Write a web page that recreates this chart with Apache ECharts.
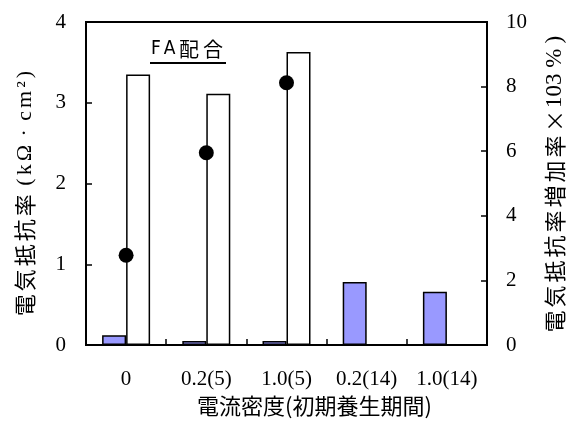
<!DOCTYPE html>
<html>
<head>
<meta charset="utf-8">
<script src="https://cdn.jsdelivr.net/npm/echarts@6/dist/echarts.min.js"></script>
<style>
  html, body { margin: 0; padding: 0; background: #fff; }
  #chart { width: 568px; height: 423px; }
</style>
</head>
<body>
<div id="chart"></div>
<script>
// Current density (initial curing period)
const categories = ['0', '0.2(5)', '1.0(5)', '0.2(14)', '1.0(14)'];
// Electrical resistivity (kΩ·cm²), two measurement series
const resistivityA = [0.12, 0.05, 0.05, 0.78, 0.66];
const resistivityB = [3.35, 3.11, 3.63, null, null];
// Resistivity increase rate (×10³ %)
const increaseRate = [2.78, 5.95, 8.12, null, null];
// Tick settings
const leftTicks = { min: 0, max: 4, interval: 1 };
const rightTicks = { min: 0, max: 10, interval: 2 };

const serif = '"Liberation Serif", "Times New Roman", serif';
const gothic = '"Noto Sans CJK JP", "Noto Sans", sans-serif';

// Wrap every character in its own rich-text token so the padding spreads the letters out
function spaced(text, style) {
  return Array.from(text).map(ch => '{' + style + '|' + ch + '}').join('');
}

const leftName = spaced('電気抵抗率', 'c') + '{g| }' +
  spaced('(kΩ', 's') + '{s| · }' + spaced('cm²)', 's');
const rightName = spaced('電気抵抗率増加率', 'c') + '{x|×}' + '{n|103 %}' + '{p|)}';
const panelTitle = spaced('FA', 'a') + spaced('配合', 'b');

const chart = echarts.init(document.getElementById('chart'), null, { renderer: 'canvas' });

chart.setOption({
  animation: false,
  backgroundColor: '#fff',
  grid: {
    left: 86, right: 81, top: 22, bottom: 78,
    containLabel: false,
    outerBoundsMode: 'none',
    show: true, borderColor: '#000', borderWidth: 2, backgroundColor: 'transparent'
  },
  graphic: [
    {
      type: 'text', left: 151, top: 39,
      style: {
        text: panelTitle,
        fill: '#000',
        rich: {
          a: { fontFamily: '"DejaVu Sans Condensed", ' + gothic, fontSize: 19, padding: [0, 1.5, 0, 1.5] },
          b: { fontFamily: gothic, fontSize: 20, padding: [0, 2, 0, 2] }
        }
      }
    },
    {
      type: 'line', shape: { x1: 150, y1: 63, x2: 226, y2: 63 },
      style: { stroke: '#000', lineWidth: 2 }
    }
  ],
  xAxis: {
    type: 'category',
    data: categories,
    axisLine: { show: true, lineStyle: { color: '#000', width: 2 } },
    axisTick: { show: true, inside: true, length: 6, lineStyle: { color: '#000', width: 1.5 } },
    axisLabel: { color: '#000', fontFamily: serif, fontSize: 21, margin: 24, interval: 0 },
    splitLine: { show: false },
    name: '電流密度(初期養生期間)',
    nameLocation: 'middle',
    nameGap: 49,
    nameTextStyle: { color: '#000', fontFamily: gothic, fontSize: 22, padding: [0, 0, 0, 56] }
  },
  yAxis: [
    {
      type: 'value', min: leftTicks.min, max: leftTicks.max, interval: leftTicks.interval,
      position: 'left',
      axisLine: { show: true, lineStyle: { color: '#000', width: 2 } },
      axisTick: { show: true, inside: true, length: 6, lineStyle: { color: '#000', width: 1.5 } },
      axisLabel: { color: '#000', fontFamily: serif, fontSize: 21, margin: 20 },
      splitLine: { show: false },
      name: leftName,
      nameLocation: 'middle',
      nameGap: 50,
      nameRotate: 90,
      nameTextStyle: {
        color: '#000',
        padding: [0, 20, 0, 0],
        rich: {
          c: { fontFamily: gothic, fontSize: 22, color: '#000', padding: [0, 1.5, 0, 1.5] },
          g: { fontFamily: serif, fontSize: 22, color: '#000' },
          s: { fontFamily: serif, fontSize: 22, color: '#000', padding: [0, 1.5, 0, 1.5] }
        }
      }
    },
    {
      type: 'value', min: rightTicks.min, max: rightTicks.max, interval: rightTicks.interval,
      position: 'right',
      axisLine: { show: true, lineStyle: { color: '#000', width: 2 } },
      axisTick: { show: true, inside: true, length: 6, lineStyle: { color: '#000', width: 1.5 } },
      axisLabel: { color: '#000', fontFamily: serif, fontSize: 21, margin: 19 },
      splitLine: { show: false },
      name: rightName,
      nameLocation: 'middle',
      nameGap: 56,
      nameRotate: 90,
      nameTextStyle: {
        color: '#000',
        rich: {
          c: { fontFamily: gothic, fontSize: 22, color: '#000', padding: [0, 1.5, 0, 1.5] },
          x: { fontFamily: gothic, fontSize: 22, color: '#000', padding: [0, 2, 0, 2] },
          n: { fontFamily: serif, fontSize: 23, color: '#000', padding: [0, 2, 0, 0] },
          p: { fontFamily: serif, fontSize: 23, color: '#000', padding: [0, 3, 0, 3] }
        }
      }
    }
  ],
  series: [
    {
      type: 'bar', yAxisIndex: 0, data: resistivityA,
      barWidth: 24, barGap: '0%',
      itemStyle: { color: '#9999ff', borderColor: '#000', borderWidth: 1.5 }
    },
    {
      type: 'bar', yAxisIndex: 0, data: resistivityB,
      barWidth: 24, barGap: '0%',
      itemStyle: { color: '#fff', borderColor: '#000', borderWidth: 1.5 }
    },
    {
      type: 'scatter', yAxisIndex: 1, data: increaseRate,
      symbol: 'circle', symbolSize: 15,
      itemStyle: { color: '#000', opacity: 1 },
      z: 5
    }
  ]
});
</script>
</body>
</html>
